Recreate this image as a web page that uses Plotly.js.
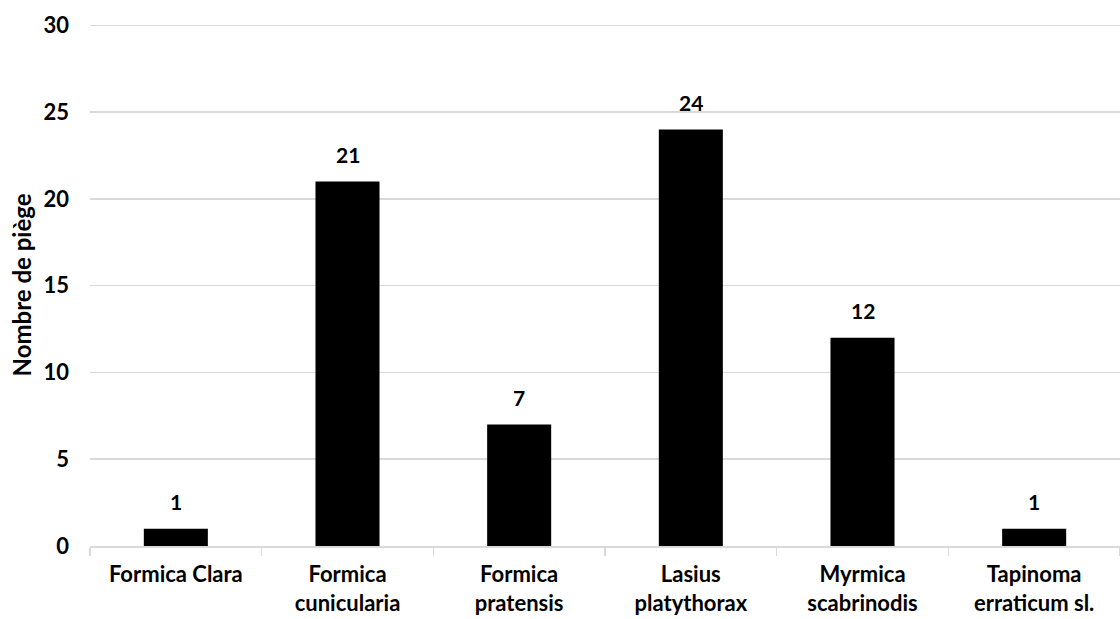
<!DOCTYPE html>
<html>
<head>
<meta charset="utf-8">
<script src="https://cdn.plot.ly/plotly-3.0.1.min.js"></script>
<style>
  html, body { margin: 0; padding: 0; background: #ffffff; }
  #chart { width: 1120px; height: 619px; }
</style>
</head>
<body>
<div id="chart"></div>
<script>
// Espèces de fourmis et nombre de pièges où chacune a été trouvée
const especes = [
  "Formica Clara",
  "Formica<br>cunicularia",
  "Formica<br>pratensis",
  "Lasius<br>platythorax",
  "Myrmica<br>scabrinodis",
  "Tapinoma<br>erraticum sl."
];
const nbPieges = [1, 21, 7, 24, 12, 1];
const yTicks = [0, 5, 10, 15, 20, 25, 30];

const police = "Lato, 'Open Sans', sans-serif";
const gris = "#d9d9d9";
const taille = 22;

const barres = {
  type: "bar",
  x: especes,
  y: nbPieges,
  width: 0.373,
  marker: { color: "#000000", line: { width: 0 } },
  hoverinfo: "x+y"
};

// Étiquettes de valeur au-dessus de chaque barre
const etiquettes = especes.map((e, i) => ({
  x: e,
  y: nbPieges[i],
  text: String(nbPieges[i]),
  showarrow: false,
  yanchor: "bottom",
  yshift: 13,
  font: { family: police, size: 21, color: "#000000", weight: "bold" }
}));

const layout = {
  width: 1120,
  height: 619,
  margin: { l: 90, r: 0, t: 24, b: 73 },
  paper_bgcolor: "#ffffff",
  plot_bgcolor: "#ffffff",
  showlegend: false,
  bargap: 0.627,
  font: { family: police, size: taille, color: "#000000", weight: "bold" },
  xaxis: {
    type: "category",
    showline: true,
    linecolor: gris,
    linewidth: 1.5,
    ticks: "outside",
    tickson: "boundaries",
    ticklen: 8,
    tickcolor: gris,
    tickwidth: 1.5,
    showgrid: false,
    ticklabelstandoff: 8,
    tickfont: { family: police, size: taille, color: "#000000", weight: "bold" }
  },
  yaxis: {
    // léger dépassement au-dessus de 30 pour que la dernière grille reste visible
    range: [0, 30.08],
    tickvals: yTicks,
    ticktext: yTicks.map(String),
    showgrid: true,
    gridcolor: gris,
    gridwidth: 1.5,
    zeroline: false,
    showline: false,
    ticks: "",
    ticklabelstandoff: 20,
    tickfont: { family: police, size: taille, color: "#000000", weight: "bold" },
    title: {
      text: "Nombre de piège",
      standoff: 5,
      font: { family: police, size: 24, color: "#000000", weight: "bold" }
    }
  },
  annotations: etiquettes
};

Plotly.newPlot("chart", [barres], layout, { displayModeBar: false, staticPlot: true });
</script>
</body>
</html>
